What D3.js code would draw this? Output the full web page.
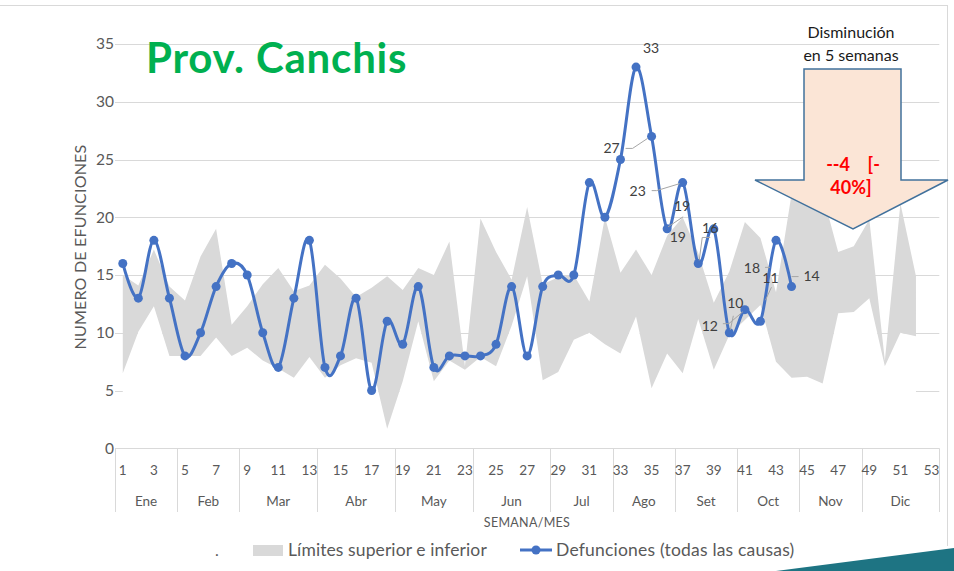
<!DOCTYPE html>
<html>
<head>
<meta charset="utf-8">
<script src="https://cdn.jsdelivr.net/npm/d3@7/dist/d3.min.js"></script>
<style>
  html, body { margin: 0; padding: 0; background: #fff; }
  svg { display: block; }
  text { font-family: Lato, "Open Sans", sans-serif; }
</style>
</head>
<body>
<svg id="chart" width="954" height="571"></svg>
<script>
// Weekly deaths (all causes), weeks 1–44
const deaths = [16, 13, 18, 13, 8, 10, 14, 16, 15, 10, 7, 13, 18, 7, 8, 13, 5, 11, 9, 14, 7, 8,
                8, 8, 9, 14, 8, 14, 15, 15, 23, 20, 25, 33, 27, 19, 23, 16, 19, 10, 12, 11, 18, 14];

// Lower and upper expected limits, weeks 1–52
const lowerLimit = [6.5, 10.1, 12.3, 8.0, 8.0, 8.0, 9.6, 8.0, 8.7, 7.6, 6.9, 6.1, 7.9, 6.1, 7.2, 7.8,
                    7.4, 1.7, 5.8, 11.0, 5.8, 7.6, 6.8, 7.9, 7.1, 10.6, 14.9, 5.9, 6.6, 9.4, 10.0, 9.0,
                    8.2, 11.4, 5.2, 8.2, 6.5, 11.2, 6.8, 9.8, 11.1, 12.4, 7.5, 6.1, 6.2, 5.6, 11.7, 11.8,
                    13.0, 7.1, 10.0, 9.7];
const upperLimit = [15.0, 14.1, 17.2, 14.0, 12.8, 16.6, 19.0, 10.7, 12.3, 14.2, 15.6, 13.6, 14.1, 15.9, 14.7, 13.1,
                    13.9, 14.9, 13.7, 15.6, 15.0, 17.9, 7.1, 19.9, 17.0, 14.6, 20.9, 14.2, 14.8, 15.0, 12.7, 20.0,
                    15.2, 17.2, 15.0, 18.4, 20.0, 16.9, 12.6, 15.3, 19.6, 18.2, 13.5, 22.0, 23.0, 22.0, 17.0, 17.5,
                    19.8, 7.6, 21.2, 14.9];

// Axis categories
const weekCount = 53;
const months = ["Ene", "Feb", "Mar", "Abr", "May", "Jun", "Jul", "Ago", "Set", "Oct", "Nov", "Dic"];
const weeksPerMonth = [4, 4, 5, 5, 5, 5, 4, 4, 4, 4, 4, 5];
const yTicks = [0, 5, 10, 15, 20, 25, 30, 35];

// Annotation
const changeAbs = -4;
const changePct = -40;
const changeWeeks = 5;

// Weeks whose value is printed, with label placement relative to the point
const labelPlacement = {
  34: { dx: 15,  dy: -19 },
  35: { dx: -40, dy: 12,  leader: [[-26, 12], [-19, 12], [-4, 2]] },
  36: { dx: 15,  dy: -23, leader: [[1, -2], [16, -12]] },
  37: { dx: -45, dy: 8,   leader: [[-31, 8], [-26, 8], [-3, 1]] },
  38: { dx: 12,  dy: -35, leader: [[1, -3], [4, -26], [12, -26]] },
  39: { dx: -36, dy: 8 },
  40: { dx: 6,   dy: -30, leader: [[1, -3], [4, -17]] },
  41: { dx: -35, dy: 16,  leader: [[-22, 14], [-16, 14], [-2, 2]] },
  42: { dx: 10,  dy: -43, leader: [[5, -21], [11, -34]] },
  43: { dx: -24, dy: 28,  leader: [[-11, 27], [-6, 27]] },
  44: { dx: 20,  dy: -10, leader: [[0, -10], [7, -10]] }
};

const svg = d3.select("#chart");
const plot = { left: 115, right: 939.3, top: 44, bottom: 448.3 };

const weeks = d3.range(1, weekCount + 1);
const x = d3.scaleBand().domain(weeks).range([plot.left, plot.right]).padding(0);
const xc = w => x(w) + x.bandwidth() / 2;
const y = d3.scaleLinear().domain([0, 35]).range([plot.bottom, plot.top]);

const gridColor = "#D9D9D9";
const axisText = "#595959";

// Chart frame
svg.append("line").attr("x1", 0).attr("x2", 947).attr("y1", 5.5).attr("y2", 5.5)
  .attr("stroke", gridColor).attr("stroke-width", 1);
svg.append("line").attr("x1", 947.5).attr("x2", 947.5).attr("y1", 5).attr("y2", 546)
  .attr("stroke", gridColor).attr("stroke-width", 1);

// Horizontal gridlines
svg.append("g").selectAll("line").data(yTicks.filter(d => d > 0)).join("line")
  .attr("x1", plot.left).attr("x2", plot.right)
  .attr("y1", d => Math.round(y(d)) + 0.5).attr("y2", d => Math.round(y(d)) + 0.5)
  .attr("stroke", gridColor).attr("stroke-width", 1);

// Y tick labels
svg.append("g").selectAll("text").data(yTicks).join("text")
  .attr("x", 114).attr("y", d => y(d)).attr("dy", "0.35em")
  .attr("text-anchor", "end").attr("font-size", 15.5).attr("fill", axisText)
  .text(d => d);

// Limits band: white below the lower limit, grey between the limits
const bandData = lowerLimit.map((lo, i) => ({ week: i + 1, lo, hi: upperLimit[i] }));
svg.append("path").datum(bandData)
  .attr("fill", "#FFFFFF")
  .attr("d", d3.area().x(d => xc(d.week)).y0(y(0)).y1(d => y(d.lo)));
svg.append("path").datum(bandData)
  .attr("fill", "#D9D9D9")
  .attr("d", d3.area().x(d => xc(d.week)).y0(d => y(d.lo)).y1(d => y(d.hi)));

// Category axis: baseline, month separators, week and month labels
svg.append("line").attr("x1", plot.left).attr("x2", plot.right)
  .attr("y1", Math.round(y(0)) + 0.5).attr("y2", Math.round(y(0)) + 0.5)
  .attr("stroke", gridColor).attr("stroke-width", 1);

let start = 1;
const monthSpans = weeksPerMonth.map((n, i) => {
  const span = { name: months[i], first: start, last: start + n - 1 };
  start += n;
  return span;
});
const sepX = [x(1), ...monthSpans.map(m => x(m.last) + x.bandwidth())];
svg.append("g").selectAll("line").data(sepX).join("line")
  .attr("x1", d => Math.round(d) + 0.5).attr("x2", d => Math.round(d) + 0.5)
  .attr("y1", y(0)).attr("y2", 512)
  .attr("stroke", gridColor).attr("stroke-width", 1);

svg.append("g").selectAll("text").data(weeks.filter(w => w % 2 === 1)).join("text")
  .attr("x", d => xc(d)).attr("y", 470).attr("dy", "0.35em")
  .attr("text-anchor", "middle").attr("font-size", 13.5).attr("fill", axisText)
  .text(d => d);

svg.append("g").selectAll("text").data(monthSpans).join("text")
  .attr("x", d => (x(d.first) + x(d.last) + x.bandwidth()) / 2).attr("y", 501).attr("dy", "0.35em")
  .attr("text-anchor", "middle").attr("font-size", 13.5).attr("fill", axisText)
  .text(d => d.name);

// Axis titles
svg.append("text").attr("x", 527).attr("y", 523).attr("dy", "0.35em")
  .attr("text-anchor", "middle").attr("font-size", 12.5).attr("fill", axisText)
  .attr("letter-spacing", 0.3)
  .text("SEMANA/MES");
svg.append("text").attr("transform", "translate(80,247) rotate(-90)").attr("dy", "0.35em")
  .attr("text-anchor", "middle").attr("font-size", 16).attr("fill", axisText)
  .attr("letter-spacing", 0.2)
  .text("NUMERO DE EFUNCIONES");

// Deaths line with markers
const lineColor = "#4472C4";
const pts = deaths.map((v, i) => ({ week: i + 1, v }));
svg.append("path").datum(pts)
  .attr("fill", "none").attr("stroke", lineColor).attr("stroke-width", 3)
  .attr("stroke-linejoin", "round")
  .attr("d", d3.line().x(d => xc(d.week)).y(d => y(d.v)).curve(d3.curveCatmullRom.alpha(0)));
svg.append("g").selectAll("circle").data(pts).join("circle")
  .attr("cx", d => xc(d.week)).attr("cy", d => y(d.v)).attr("r", 4.5)
  .attr("fill", lineColor);

// Value labels with leader lines
const labelled = pts.filter(d => labelPlacement[d.week]);
const lg = svg.append("g");
labelled.forEach(d => {
  const p = labelPlacement[d.week];
  const px = xc(d.week), py = y(d.v);
  if (p.leader) {
    lg.append("polyline")
      .attr("points", p.leader.map(([a, b]) => `${px + a},${py + b}`).join(" "))
      .attr("fill", "none").attr("stroke", "#A6A6A6").attr("stroke-width", 1);
  }
  lg.append("text").attr("x", px + p.dx).attr("y", py + p.dy).attr("dy", "0.35em")
    .attr("text-anchor", "middle").attr("font-size", 14).attr("fill", "#404040")
    .text(d.v);
});

// Title
svg.append("text").attr("x", 146).attr("y", 73)
  .attr("font-size", 42).attr("font-weight", 700).attr("fill", "#00B050")
  .attr("letter-spacing", 0.8)
  .text("Prov. Canchis");

// Down arrow annotation
const arrow = [[804, 69], [901, 69], [901, 180], [948, 180], [853, 229], [755, 180], [804, 180]];
svg.append("polygon")
  .attr("points", arrow.map(p => p.join(",")).join(" "))
  .attr("fill", "#FBE5D6").attr("stroke", "#41719C").attr("stroke-width", 1.5);
const at = svg.append("text").attr("text-anchor", "middle").attr("font-size", 18)
  .attr("font-weight", 700).attr("fill", "#FF0000").attr("xml:space", "preserve");
at.append("tspan").attr("x", 853).attr("y", 171).text(`-${changeAbs}\u00a0\u00a0\u00a0\u00a0[-`);
at.append("tspan").attr("x", 851).attr("y", 194).text(`${Math.abs(changePct)}%]`);

svg.append("text").attr("x", 851).attr("y", 38).attr("text-anchor", "middle")
  .attr("font-size", 16).attr("fill", "#1a1a1a").text("Disminución");
svg.append("text").attr("x", 851).attr("y", 61).attr("text-anchor", "middle")
  .attr("font-size", 16).attr("fill", "#1a1a1a").text(`en ${changeWeeks} semanas`);

// Legend
svg.append("text").attr("x", 217).attr("y", 550).attr("dy", "0.35em")
  .attr("text-anchor", "middle").attr("font-size", 16).attr("fill", axisText).text(".");
svg.append("rect").attr("x", 253).attr("y", 545).attr("width", 30).attr("height", 11)
  .attr("fill", "#D9D9D9");
svg.append("text").attr("x", 288).attr("y", 550).attr("dy", "0.35em")
  .attr("font-size", 17.5).attr("fill", axisText).attr("letter-spacing", 0.1)
  .text("Límites superior e inferior");
svg.append("line").attr("x1", 520).attr("x2", 552).attr("y1", 550).attr("y2", 550)
  .attr("stroke", lineColor).attr("stroke-width", 3);
svg.append("circle").attr("cx", 536).attr("cy", 550).attr("r", 4.5).attr("fill", lineColor);
svg.append("text").attr("x", 556).attr("y", 550).attr("dy", "0.35em")
  .attr("font-size", 17.5).attr("fill", axisText).attr("letter-spacing", 0.2)
  .text("Defunciones (todas las causas)");

// Corner accent
svg.append("polygon")
  .attr("points", "776,571 954,548 954,571")
  .attr("fill", "#1E7483");
</script>
</body>
</html>
